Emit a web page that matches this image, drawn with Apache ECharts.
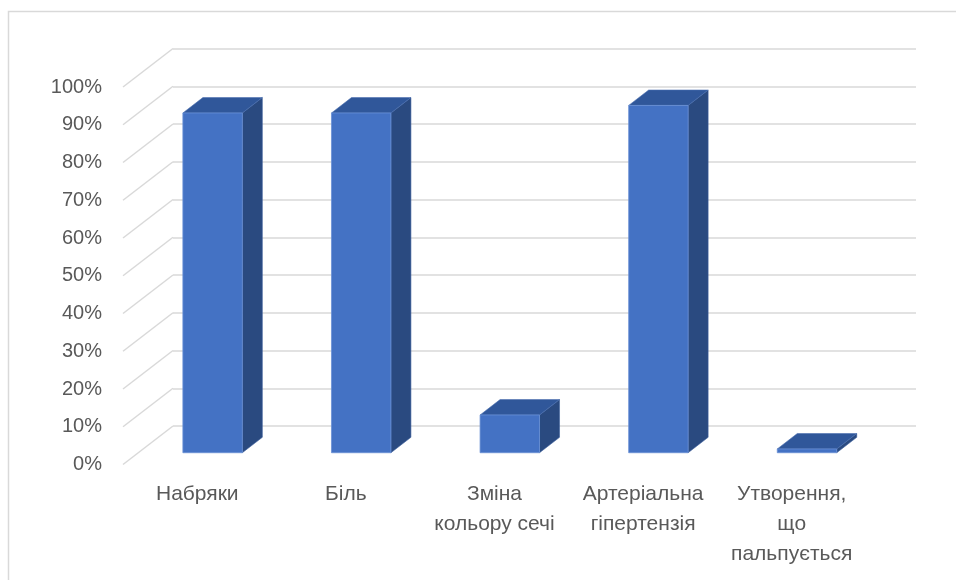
<!DOCTYPE html>
<html>
<head>
<meta charset="utf-8">
<script src="https://cdn.jsdelivr.net/npm/echarts@6/dist/echarts.min.js"></script>
<style>html,body{margin:0;padding:0;background:#fff}#c{width:956px;height:580px}</style>
</head>
<body>
<div id="c"></div>
<script>
const categories = ['Набряки', 'Біль', 'Зміна\nкольору сечі', 'Артеріальна\nгіпертензія', 'Утворення,\nщо\nпальпується'];
const values = [0.90, 0.90, 0.10, 0.92, 0.01];
const yTickValues = [0, 0.1, 0.2, 0.3, 0.4, 0.5, 0.6, 0.7, 0.8, 0.9, 1.0];
const yTickLabels = ['0%', '10%', '20%', '30%', '40%', '50%', '60%', '70%', '80%', '90%', '100%'];

// layout of the pseudo-3D floor (pixels)
const DEPTH_DX = 50, DEPTH_DY = 38.5;       // back wall -> front edge
const BAR_FRONT = 0.694;                    // bar front face position from back wall (fraction of depth)
const BAR_DEPTH = 0.4;                      // bar depth (fraction of depth)
const BAR_W = 0.4;                          // bar width (fraction of band)
const FONT = '"Liberation Sans", Arial, sans-serif';

const chart = echarts.init(document.getElementById('c'));
chart.setOption({
  animation: false,
  backgroundColor: '#fff',
  graphic: [{
    type: 'rect', silent: true, z: -10,
    shape: { x: 8.5, y: 11.5, width: 1000, height: 1000 },
    style: { fill: 'none', stroke: '#D9D9D9', lineWidth: 1.5 }
  }],
  grid: [
    { left: 173, right: 40, top: 48.5, bottom: 154 },
    { left: 123, right: 90, top: 87, bottom: 115.5 }
  ],
  xAxis: [
    { type: 'category', gridIndex: 0, data: categories, axisLine: { show: false }, axisTick: { show: false }, axisLabel: { show: false }, splitLine: { show: false } },
    { type: 'category', gridIndex: 1, data: categories, axisLine: { show: false }, axisTick: { show: false }, splitLine: { show: false },
      axisLabel: { show: true, interval: 0, margin: 15, color: '#595959', fontSize: 21, lineHeight: 30, fontFamily: FONT, align: 'center', verticalAlign: 'top' } }
  ],
  yAxis: [
    { type: 'value', gridIndex: 0, min: 0, max: 1, interval: 0.1, axisLine: { show: false }, axisTick: { show: false }, axisLabel: { show: false },
      splitLine: { show: true, lineStyle: { color: '#D9D9D9', width: 1.5 } } },
    { type: 'value', gridIndex: 1, min: 0, max: 1, interval: 0.1, axisLine: { show: false }, axisTick: { show: false }, splitLine: { show: false },
      axisLabel: { show: true, margin: 21, color: '#595959', fontSize: 20, fontFamily: FONT, formatter: (v, idx) => yTickLabels[idx] } }
  ],
  series: [
    {
      type: 'custom', xAxisIndex: 0, yAxisIndex: 0, silent: true, z: 1,
      data: yTickValues.map(v => [0, v]),
      renderItem: function (params, api) {
        const p = api.coord([0, api.value(1)]);
        const band = api.size([1, 0])[0];
        const x = p[0] - band / 2;
        return { type: 'line', shape: { x1: x, y1: p[1], x2: x - DEPTH_DX, y2: p[1] + DEPTH_DY },
          style: { stroke: '#D9D9D9', lineWidth: 1.5 } };
      }
    },
    {
      type: 'custom', xAxisIndex: 0, yAxisIndex: 0, z: 5,
      data: values.map((v, i) => [i, v]),
      renderItem: function (params, api) {
        const i = api.value(0), v = api.value(1);
        const base = api.coord([i, 0]);
        const top = api.coord([i, v]);
        const band = api.size([1, 0])[0];
        const w = band * BAR_W;
        const cx = base[0] - DEPTH_DX * BAR_FRONT;
        const by = base[1] + DEPTH_DY * BAR_FRONT;
        const ty = top[1] + DEPTH_DY * BAR_FRONT;
        const x0 = cx - w / 2, x1 = cx + w / 2;
        const ddx = DEPTH_DX * BAR_DEPTH, ddy = DEPTH_DY * BAR_DEPTH;
        return {
          type: 'group',
          children: [
            { type: 'polygon', shape: { points: [[x1, ty], [x1 + ddx, ty - ddy], [x1 + ddx, by - ddy], [x1, by]] },
              style: { fill: '#2A4A80', stroke: '#3B5E9C', lineWidth: 0.6 } },
            { type: 'polygon', shape: { points: [[x0, ty], [x1, ty], [x1 + ddx, ty - ddy], [x0 + ddx, ty - ddy]] },
              style: { fill: '#30579A', stroke: '#4A6FB0', lineWidth: 0.6 } },
            { type: 'rect', shape: { x: x0, y: ty, width: w, height: by - ty },
              style: { fill: '#4472C4', stroke: '#6A91D6', lineWidth: 0.8 } }
          ]
        };
      }
    }
  ]
});
</script>
</body>
</html>
